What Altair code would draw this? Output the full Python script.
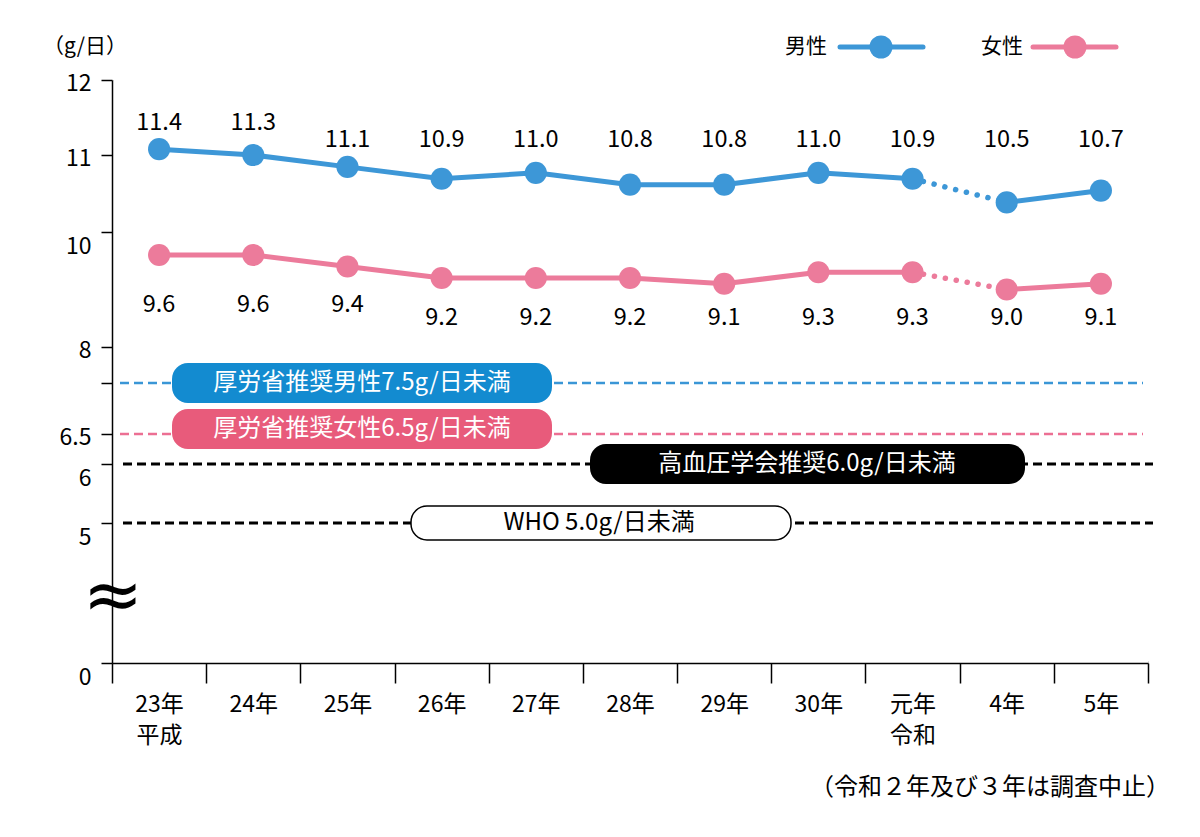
import altair as alt
import pandas as pd

# ---------------- data ----------------
years = ["23年", "24年", "25年", "26年", "27年", "28年", "29年", "30年", "元年", "4年", "5年"]
men = [11.4, 11.3, 11.1, 10.9, 11.0, 10.8, 10.8, 11.0, 10.9, 10.5, 10.7]
women = [9.6, 9.6, 9.4, 9.2, 9.2, 9.2, 9.1, 9.3, 9.3, 9.0, 9.1]
series_names = ["男性", "女性"]
series_colors = ["#3d97d7", "#ec7b9b"]

guide_values = [7.5, 6.5, 6.0, 5.0]
guide_texts = ["厚労省推奨男性7.5g/日未満", "厚労省推奨女性6.5g/日未満",
               "高血圧学会推奨6.0g/日未満", "WHO 5.0g/日未満"]

y_tick_values = [0, 5, 6, 6.5, 7.5, 8, 10, 11.3, 12.568]
y_domain = [0, 5, 6, 6.5, 7.5, 8, 10, 12.568]
y_range = [583, 443, 384, 354, 303, 267, 152, 0]

FONT = "Noto Sans CJK JP"

rows = []
for s, vals in zip(series_names, [men, women]):
    for i, (yr, v) in enumerate(zip(years, vals)):
        rows.append({"series": s, "year": yr, "value": v, "idx": i})
df = pd.DataFrame(rows)

one = pd.DataFrame({"k": [0]})

yscale = alt.Scale(domain=y_domain, range=y_range, nice=False, zero=False)
xscale = alt.Scale(domain=years, paddingInner=0, paddingOuter=0)
color = alt.Color("series:N", scale=alt.Scale(domain=series_names, range=series_colors), legend=None)

x_axis = alt.Axis(
    title=None, grid=False, tickBand="extent", labelAngle=0, labelFontSize=23,
    labelColor="black", labelFont=FONT, tickSize=20, tickColor="black", tickWidth=1.5,
    domainColor="black", domainWidth=1.5, labelPadding=10, labelBaseline="top", labelLineHeight=31,
    labelExpr="datum.label == '23年' ? ['23年','平成'] : datum.label == '元年' ? ['元年','令和'] : datum.label",
)
y_axis = alt.Axis(
    title=None, values=y_tick_values, grid=False, tickSize=11, tickColor="black",
    tickWidth=1.5, domainColor="black", domainWidth=1.5, labelFontSize=23,
    labelColor="black", labelFont=FONT, labelPadding=10, format=".1~f",
    labelExpr="datum.value == 7.5 ? '' : datum.value > 12 ? '12' : datum.value > 11 ? '11' : datum.label",
    labelOffset={"condition": {"test": "datum.value == 10 || datum.value <= 6", "value": 14}, "value": 3},
)

X = alt.X("year:N", sort=years, scale=xscale, axis=x_axis)
Y = alt.Y("value:Q", scale=yscale, axis=y_axis)

# ---------------- guide lines ----------------
def guide_rule(v, col, x1, x2, w):
    return alt.Chart(one).mark_rule(strokeDash=[9, 5], strokeWidth=w, color=col).encode(
        x=alt.value(x1), x2=alt.value(x2), y=alt.datum(v, scale=yscale))

rules = [
    guide_rule(guide_values[0], "#3a96d6", 8, 1031, 2.5),
    guide_rule(guide_values[1], "#ec6f93", 8, 1031, 2.5),
    guide_rule(guide_values[2], "black", 11, 1041, 3),
    guide_rule(guide_values[3], "black", 11, 1041, 3),
]

def pill(v, fill, x1, x2, half, shift=0, stroke=None):
    kw = dict(cornerRadius=16, fill=fill, yOffset=-half + shift, y2Offset=half + shift)
    if stroke:
        kw.update(stroke=stroke, strokeWidth=1.5)
    return alt.Chart(one).mark_rect(**kw).encode(
        x=alt.value(x1), x2=alt.value(x2), y=alt.datum(v, scale=yscale), y2=alt.datum(v))

def pill_text(v, txt, xc, col, shift=0):
    return alt.Chart(one).mark_text(text=txt, color=col, fontSize=24, font=FONT,
                                     fontWeight="normal", dy=shift).encode(
        x=alt.value(xc), y=alt.datum(v, scale=yscale))

pills = [
    pill(guide_values[0], "#138bd0", 60, 440, 20),
    pill(guide_values[1], "#e85b7b", 60, 440, 20, shift=-5),
    pill(guide_values[2], "black", 478, 913, 20),
    pill(guide_values[3], "white", 299, 679, 17, stroke="black"),
    pill_text(guide_values[0], guide_texts[0], 250, "white"),
    pill_text(guide_values[1], guide_texts[1], 250, "white", shift=-5),
    pill_text(guide_values[2], guide_texts[2], 695, "white"),
    pill_text(guide_values[3], guide_texts[3], 487, "black"),
]

# ---------------- data series ----------------
base = alt.Chart(df)
solid = base.mark_line(strokeWidth=5).encode(
    x=X, y=Y, color=color, detail="seg:N"
).transform_calculate(seg="datum.idx <= 8 ? 'a' : 'b'")
dotted = base.mark_line(strokeWidth=5.5, strokeDash=[0.1, 11], strokeCap="round").encode(
    x=X, y=Y, color=color, detail="series:N"
).transform_filter("datum.idx == 8 || datum.idx == 9")
points = base.mark_circle(size=490, opacity=1).encode(x=X, y=Y, color=color)
labels = base.mark_text(fontSize=23.5, font=FONT, color="black").encode(
    x=X, y=alt.Y("ly:Q", scale=yscale), text=alt.Text("value:Q", format=".1f")
).transform_calculate(
    ly="datum.series == '男性' ? (datum.value >= 11.3 ? 11.842 : 11.555) : (datum.value >= 9.4 ? 8.73 : 8.504)"
)

# ---------------- decorations ----------------
brk = alt.Chart(one).mark_text(text="≈", fontSize=72, font="DejaVu Sans", color="black").encode(
    x=alt.value(1), y=alt.datum(2.36, scale=yscale))

unit = alt.Chart(one).mark_text(text="（g/日）", fontSize=21, font=FONT, color="black").encode(
    x=alt.value(-27), y=alt.value(-33))

# masks for the plot frame's right and top borders
edge_r = alt.Chart(one).mark_rule(color="white", strokeWidth=3).encode(
    x=alt.value(1036), y=alt.value(-2), y2=alt.value(581))
edge_t = alt.Chart(one).mark_rule(color="white", strokeWidth=3).encode(
    x=alt.value(2), x2=alt.value(1038), y=alt.value(0))

leg = []
for name, col, tx, lx1, lx2, cx in [("男性", series_colors[0], 715, 728, 811, 769),
                                     ("女性", series_colors[1], 911, 921, 1004, 963)]:
    leg.append(alt.Chart(one).mark_text(text=name, fontSize=21, font=FONT, align="right",
                                        color="black").encode(x=alt.value(tx), y=alt.value(-33)))
    leg.append(alt.Chart(one).mark_rule(strokeWidth=5, strokeCap="round", color=col).encode(
        x=alt.value(lx1), x2=alt.value(lx2), y=alt.value(-33)))
    leg.append(alt.Chart(one).mark_circle(size=530, opacity=1, color=col).encode(
        x=alt.value(cx), y=alt.value(-33)))

note = alt.Chart(one).mark_text(text="（令和２年及び３年は調査中止）", fontSize=24, font=FONT,
                                color="black").encode(x=alt.value(878), y=alt.value(708))

chart = alt.layer(
    edge_r, edge_t, *rules, *pills, solid, dotted, points, labels, brk, unit, *leg, note
).properties(
    width=1036, height=583,
    padding={"left": 104, "top": 72, "right": 44, "bottom": 160},
    autosize="none",
).configure_view(stroke="#ffffff", strokeOpacity=0, strokeWidth=0).configure(font=FONT)

chart.save("out.html", embed_options={"renderer": "svg", "actions": False})
